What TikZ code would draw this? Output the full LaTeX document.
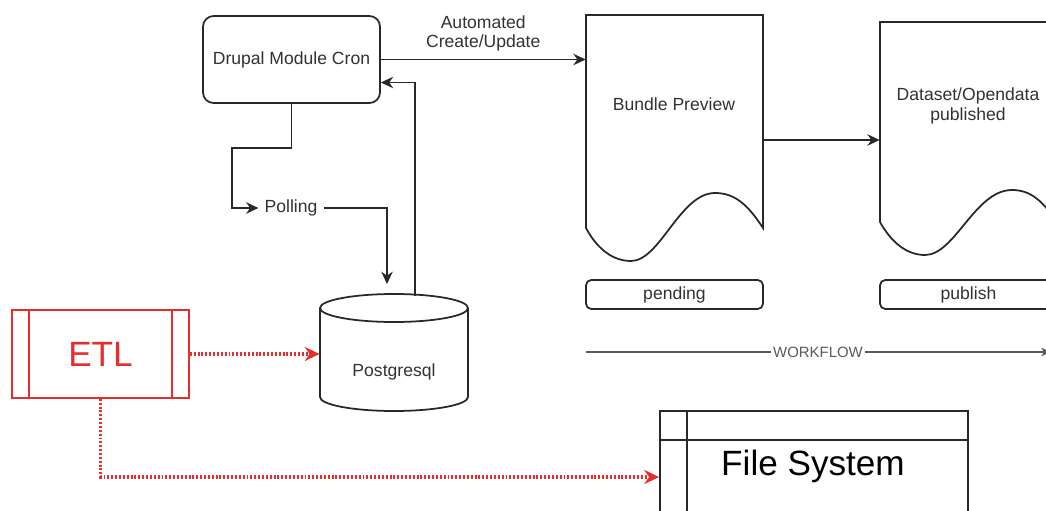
\documentclass[tikz,border=0pt]{standalone}
\usepackage{fontspec}
\setmainfont{Liberation Sans}
\usetikzlibrary{arrows.meta,calc}
\definecolor{ink}{RGB}{40,40,40}
\definecolor{txt}{RGB}{50,50,50}
\definecolor{etlred}{RGB}{232,45,45}
\definecolor{wfgray}{RGB}{90,90,90}
\begin{document}
\begin{tikzpicture}[x=0.02cm,y=-0.02cm,
  every node/.style={text=txt,font=\fontsize{10}{12}\selectfont},
  ln/.style={draw=ink,line width=1pt},
  arr/.style={ln,-{Stealth[length=7pt,width=6.5pt]}},
  redarr/.style={draw=etlred,line width=1.9pt,dash pattern=on 1.1pt off 1.1pt,-{Stealth[length=8.5pt,width=8pt]}},
  box/.style={ln,fill=white,inner sep=0pt},
  ghost/.style={inner sep=0pt,draw=none}]
\useasboundingbox (0,0) rectangle (1046,511);
\clip (0,0) rectangle (1046,511);

% Drupal
\node[box,rounded corners=6pt,minimum width=3.54cm,minimum height=1.74cm] (drupal) at (291.5,59.5) {Drupal Module Cron};

% Bundle Preview document
\node[ghost,minimum width=3.54cm,minimum height=4.92cm] (bundle) at (674.5,138) {};
\draw[ln,fill=white] (586,228) -- (586,15) -- (763,15) -- (763,228)
  .. controls (748,205) and (735,193) .. (715,193)
  .. controls (680,193) and (660,261) .. (631,261)
  .. controls (610,261) and (595,245) .. cycle;
\node (bundletxt) at (674,104) {Bundle Preview};

% Dataset document
\node[ghost,minimum width=3.54cm,minimum height=4.66cm] (dataset) at (968.5,138.5) {};
\draw[ln,fill=white] (880,222) -- (880,22) -- (1057,22) -- (1057,222)
  .. controls (1042,200) and (1030,190) .. (1012,190)
  .. controls (975,190) and (955,255) .. (925,255)
  .. controls (905,255) and (890,240) .. cycle;
\node[align=center] (datasettxt) at (968,106) {Dataset/Opendata\\[-1pt]published};

% status boxes
\node[box,rounded corners=3pt,minimum width=3.54cm,minimum height=0.58cm] (pending) at (674.5,294.5) {pending};
\node[box,rounded corners=3pt,minimum width=3.54cm,minimum height=0.58cm] (publish) at (968.5,294.5) {publish};

% Postgresql cylinder
\node[ghost,minimum width=2.96cm,minimum height=2.34cm] (pg) at (394,352.5) {};
\draw[ln,fill=white] (320,308) -- (320,397) arc[start angle=180,end angle=360,x radius=1.48cm,y radius=0.28cm] -- (468,308);
\draw[ln] (394,308) ellipse[x radius=1.48cm,y radius=0.28cm];
\node (pgtxt) at (394,372) {Postgresql};

% ETL
\node[draw=etlred,line width=1pt,fill=white,inner sep=0pt,minimum width=3.54cm,minimum height=1.76cm,text=etlred,font=\fontsize{20}{24}\selectfont] (etl) at (100.5,354) {ETL};
\draw[draw=etlred,line width=1pt] ([xshift=0.36cm]etl.north west) -- ([xshift=0.36cm]etl.south west);
\draw[draw=etlred,line width=1pt] ([xshift=-0.36cm]etl.north east) -- ([xshift=-0.36cm]etl.south east);

% File System
\node[box,minimum width=6.16cm,minimum height=2.64cm] (fs) at (814,477) {};
\draw[ln] ([yshift=-0.6cm]fs.north west) -- ([yshift=-0.6cm]fs.north east);
\draw[ln] ([xshift=0.56cm]fs.north west) -- ([xshift=0.56cm]fs.south west);
\node[text=black,font=\fontsize{20}{24}\selectfont] (fstxt) at (813,466) {File System};

% connectors
\draw[arr] (drupal.east) -- node[above=1pt,align=center] (autolbl) {Automated\\[-1pt]Create/Update} (drupal.east -| bundle.west);
\draw[arr] (bundle.east |- 0,140) -- (dataset.west |- 0,140);

\node (polling) at (291,208) {Polling};
\coordinate (pgin) at (387,284);
\coordinate (pgret) at (415,296);
\draw[arr] (drupal.south) -- (291.5,148) -- (232,148) |- (polling.west);
\draw[arr] (polling.east) -| (pgin);
\draw[arr] (pgret) |- ([yshift=-0.46cm]drupal.east);

\draw[redarr] (etl.east) -- (etl.east -| pg.west);
\draw[redarr] (etl.south) |- (fs.west);

% workflow
\coordinate (wfA) at (586,352);
\coordinate (wfB) at (1050,352);
\draw[draw=wfgray,line width=0.9pt,-{Stealth[length=5pt,width=5pt]}] (wfA) -- node[fill=white,inner sep=1pt,text=wfgray,font=\fontsize{8.5}{10}\selectfont] (wflbl) {WORKFLOW} (wfB);
\end{tikzpicture}
\end{document}
